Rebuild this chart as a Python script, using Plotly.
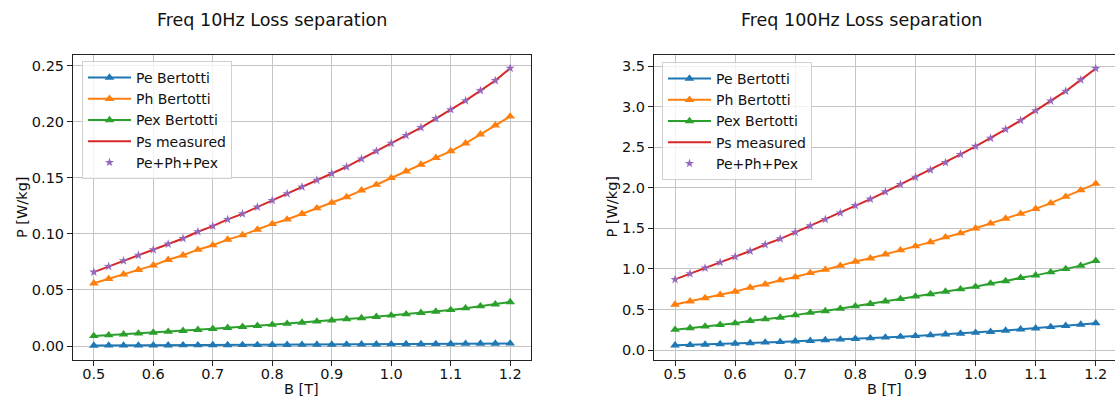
import plotly.graph_objects as go

# Flux density sweep [T]
B = [0.5, 0.525, 0.55, 0.575, 0.6, 0.625, 0.65, 0.675, 0.7, 0.725, 0.75, 0.775,
     0.8, 0.825, 0.85, 0.875, 0.9, 0.925, 0.95, 0.975, 1.0, 1.025, 1.05, 1.075,
     1.1, 1.125, 1.15, 1.175, 1.2]

# 10 Hz loss components [W/kg]
pe_10 = [0.0004, 0.00045, 0.0005, 0.00053, 0.00058, 0.00063, 0.00068, 0.00073,
         0.00079, 0.00084, 0.0009, 0.00096, 0.00103, 0.00109, 0.00116, 0.00123,
         0.0013, 0.00137, 0.00145, 0.00152, 0.0016, 0.00168, 0.00177, 0.00185,
         0.00194, 0.00203, 0.00212, 0.00222, 0.00232]
ph_10 = [0.056, 0.060, 0.064, 0.068, 0.072, 0.077, 0.081, 0.086, 0.090, 0.095,
         0.099, 0.104, 0.109, 0.113, 0.118, 0.123, 0.128, 0.133, 0.139, 0.144,
         0.150, 0.156, 0.162, 0.168, 0.174, 0.181, 0.189, 0.197, 0.205]
pex_10 = [0.0090, 0.0097, 0.0104, 0.0112, 0.0120, 0.0128, 0.0136, 0.0144, 0.0153,
          0.0162, 0.0171, 0.0180, 0.0190, 0.0199, 0.0209, 0.0219, 0.0229, 0.0240,
          0.0250, 0.0261, 0.0273, 0.0284, 0.0296, 0.0308, 0.0322, 0.0338, 0.0355,
          0.0372, 0.0392]
ps_10 = [0.066, 0.071, 0.076, 0.081, 0.086, 0.091, 0.096, 0.102, 0.107, 0.113,
         0.118, 0.124, 0.130, 0.136, 0.142, 0.148, 0.154, 0.160, 0.167, 0.174,
         0.181, 0.188, 0.195, 0.203, 0.211, 0.219, 0.228, 0.237, 0.248]
sum_10 = [0.066, 0.071, 0.076, 0.081, 0.086, 0.091, 0.096, 0.102, 0.107, 0.113,
          0.118, 0.124, 0.130, 0.136, 0.142, 0.148, 0.154, 0.160, 0.167, 0.174,
          0.181, 0.188, 0.195, 0.203, 0.211, 0.219, 0.228, 0.237, 0.248]

# 100 Hz loss components [W/kg]
pe_100 = [0.058, 0.063, 0.068, 0.074, 0.080, 0.086, 0.093, 0.100, 0.107, 0.114,
          0.122, 0.130, 0.138, 0.146, 0.155, 0.164, 0.173, 0.183, 0.193, 0.203,
          0.213, 0.224, 0.240, 0.255, 0.268, 0.284, 0.299, 0.314, 0.330]
ph_100 = [0.56, 0.60, 0.64, 0.68, 0.72, 0.77, 0.81, 0.86, 0.90, 0.95, 0.99, 1.04,
          1.09, 1.13, 1.18, 1.23, 1.28, 1.33, 1.39, 1.44, 1.50, 1.56, 1.62, 1.68,
          1.74, 1.81, 1.89, 1.97, 2.05]
pex_100 = [0.25, 0.27, 0.29, 0.31, 0.33, 0.36, 0.38, 0.40, 0.43, 0.46, 0.48, 0.51,
           0.54, 0.57, 0.60, 0.63, 0.66, 0.69, 0.72, 0.75, 0.78, 0.82, 0.85, 0.89,
           0.92, 0.96, 1.00, 1.04, 1.10]
ps_100 = [0.87, 0.94, 1.01, 1.08, 1.15, 1.22, 1.30, 1.37, 1.45, 1.53, 1.61, 1.69,
          1.78, 1.86, 1.95, 2.04, 2.13, 2.22, 2.31, 2.41, 2.51, 2.61, 2.72, 2.83,
          2.95, 3.07, 3.19, 3.33, 3.47]
sum_100 = [0.87, 0.94, 1.01, 1.08, 1.15, 1.22, 1.30, 1.37, 1.45, 1.53, 1.61, 1.69,
           1.78, 1.86, 1.95, 2.04, 2.13, 2.22, 2.31, 2.41, 2.51, 2.61, 2.72, 2.83,
           2.95, 3.07, 3.19, 3.33, 3.47]

titles = ["Freq 10Hz Loss separation", "Freq 100Hz Loss separation"]
names = ["Pe Bertotti", "Ph Bertotti", "Pex Bertotti", "Ps measured", "Pe+Ph+Pex"]
colors = ["#1f77b4", "#ff7f0e", "#2ca02c", "#d62728", "#9467bd"]

W, H = 1115, 403
FONT = "DejaVu Sans"
TXT = "#111"


def px_x(p):
    return p / W


def px_y(p):
    return 1 - p / H


fig = go.Figure()


def add_panel(xa, ya, legend, pe, ph, pex, ps, tot):
    for vals, name, col in zip([pe, ph, pex], names[:3], colors[:3]):
        fig.add_trace(go.Scatter(
            x=B, y=vals, name=name, mode="lines+markers",
            line=dict(color=col, width=2),
            marker=dict(symbol="triangle-up", size=8.5, color=col),
            xaxis=xa, yaxis=ya, legend=legend))
    fig.add_trace(go.Scatter(
        x=B, y=ps, name=names[3], mode="lines",
        line=dict(color=colors[3], width=2),
        xaxis=xa, yaxis=ya, legend=legend))
    fig.add_trace(go.Scatter(
        x=B, y=tot, name=names[4], mode="markers",
        marker=dict(symbol="star", size=7, color=colors[4]),
        xaxis=xa, yaxis=ya, legend=legend))


add_panel("x", "y", "legend", pe_10, ph_10, pex_10, ps_10, sum_10)
add_panel("x2", "y2", "legend2", pe_100, ph_100, pex_100, ps_100, sum_100)

axis_common = dict(
    showgrid=True, gridcolor="#c4c4c4", gridwidth=1,
    showline=True, linecolor="#222", linewidth=1,
    ticks="outside", ticklen=5, tickcolor="#222", tickwidth=1,
    tickfont=dict(family=FONT, size=14.5, color=TXT),
    zeroline=False, automargin=False,
)

x_ticks = [0.5, 0.6, 0.7, 0.8, 0.9, 1.0, 1.1, 1.2]
x_labels = ["0.5", "0.6", "0.7", "0.8", "0.9", "1.0", "1.1", "1.2"]
y1_ticks = [0.0, 0.05, 0.10, 0.15, 0.20, 0.25]
y1_labels = ["0.00", "0.05", "0.10", "0.15", "0.20", "0.25"]
y2_ticks = [0.0, 0.5, 1.0, 1.5, 2.0, 2.5, 3.0, 3.5]
y2_labels = ["0.0", "0.5", "1.0", "1.5", "2.0", "2.5", "3.0", "3.5"]

ydom = [px_y(360), px_y(55)]

legend_style = dict(
    xanchor="left", yanchor="top",
    bgcolor="rgba(255,255,255,0.8)", bordercolor="#d0d0d0", borderwidth=1,
    font=dict(family=FONT, size=14, color=TXT), tracegroupgap=0, itemwidth=43,
)

fig.update_layout(
    width=W, height=H,
    margin=dict(l=0, r=0, t=0, b=0),
    paper_bgcolor="white", plot_bgcolor="white",
    font=dict(family=FONT, size=14.5, color=TXT),
    xaxis=dict(axis_common, domain=[px_x(73), px_x(531)], range=[0.465, 1.235],
               tickvals=x_ticks, ticktext=x_labels, mirror=True, anchor="y",
               ticklabelstandoff=-4),
    yaxis=dict(axis_common, domain=ydom, range=[-0.0125, 0.2598],
               tickvals=y1_ticks, ticktext=y1_labels, mirror=True, anchor="x"),
    xaxis2=dict(axis_common, domain=[px_x(654), 1.0], range=[0.465, 1.232],
                tickvals=x_ticks, ticktext=x_labels, mirror=True, anchor="y2",
                ticklabelstandoff=-4),
    yaxis2=dict(axis_common, domain=ydom, range=[-0.123, 3.636],
                tickvals=y2_ticks, ticktext=y2_labels, mirror=False, anchor="x2"),
    legend=dict(legend_style, x=px_x(82), y=px_y(61)),
    legend2=dict(legend_style, x=px_x(662), y=px_y(62)),
    showlegend=True,
)

annotations = [
    dict(text=titles[0], x=px_x(272), y=px_y(20)),
    dict(text=titles[1], x=px_x(861.5), y=px_y(20)),
]
for a in annotations:
    fig.add_annotation(xref="paper", yref="paper", showarrow=False,
                       xanchor="center", yanchor="middle",
                       font=dict(family=FONT, size=17.5, color=TXT), **a)

# axis labels
for x, y in [(301.5, 389), (884, 389)]:
    fig.add_annotation(text="B [T]", xref="paper", yref="paper", x=px_x(x), y=px_y(y),
                       showarrow=False, xanchor="center", yanchor="middle",
                       font=dict(family=FONT, size=14.5, color=TXT))
for x in [22, 611.5]:
    fig.add_annotation(text="P [W/kg]", xref="paper", yref="paper", x=px_x(x), y=px_y(207),
                       showarrow=False, xanchor="center", yanchor="middle", textangle=-90,
                       font=dict(family=FONT, size=14.5, color=TXT))

fig.write_html("out.html")
